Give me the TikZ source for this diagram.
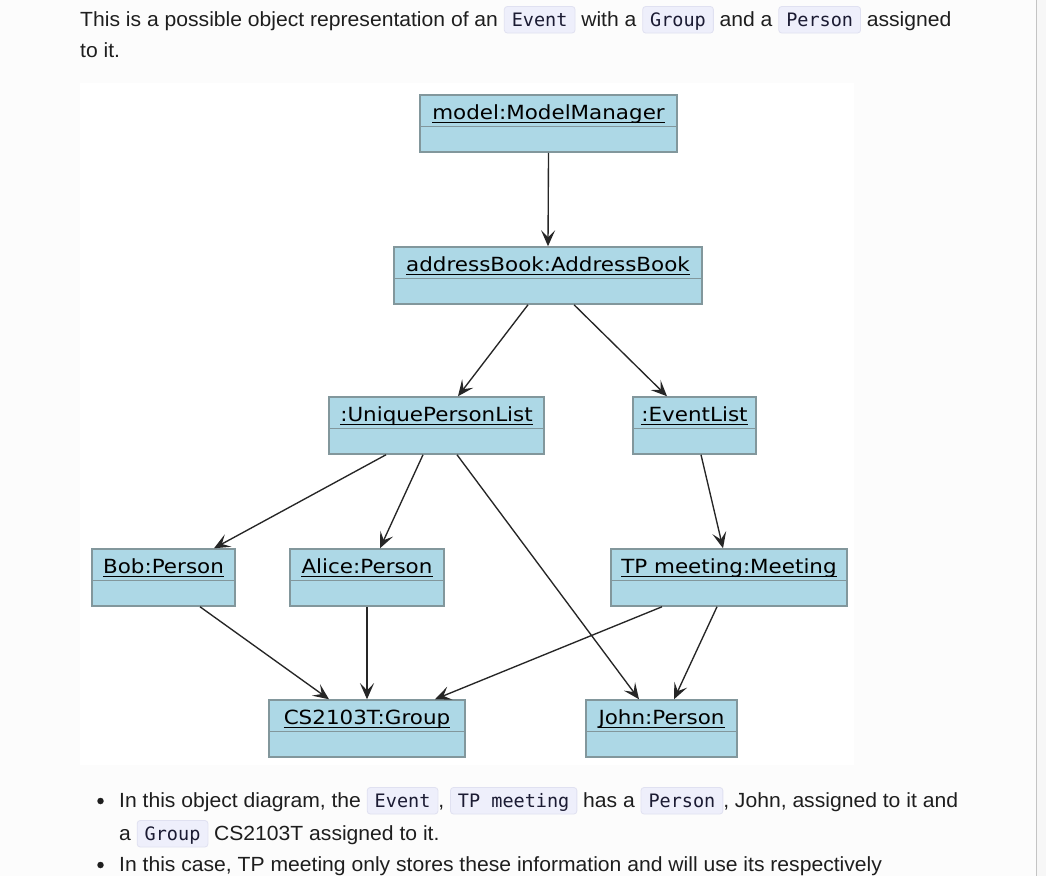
\documentclass[tikz,border=0pt]{standalone}
\usepackage{fontspec}
\setmainfont{Liberation Sans}[FakeStretch=1.03]
\newfontfamily\umlfont{DejaVu Sans}[FakeStretch=1.1]
\newfontfamily\codefont{DejaVu Sans Mono}
\usetikzlibrary{arrows.meta}

\definecolor{pagebg}{HTML}{FCFCFC}
\definecolor{sidebg}{HTML}{F7F7F7}
\definecolor{sideline}{HTML}{C4C4C4}
\definecolor{objfill}{HTML}{ADD8E6}
\definecolor{objline}{HTML}{82979C}
\definecolor{linkcol}{HTML}{262626}
\definecolor{codebg}{HTML}{EEEFFB}
\definecolor{codeedge}{HTML}{E0E1F1}
\definecolor{codetext}{HTML}{1B1B33}
\definecolor{inkcol}{HTML}{1E1E1E}

\tikzset{codebox/.style={fill=codebg, draw=codeedge, line width=0.8pt, rounded corners=3pt,
    inner xsep=7.5pt, inner ysep=0pt, text height=19.5pt, text depth=7pt,
    font=\codefont\fontsize{18.5}{20}\selectfont, text=codetext}}
\newcommand{\code}[1]{\tikz[baseline=(cb.base)]\node[codebox] (cb) {#1};}

\begin{document}
\begin{tikzpicture}[x=1pt,y=-1pt,
    objbox/.style={draw=objline, fill=objfill, line width=1.5pt, minimum height=57pt, inner sep=0pt},
    objtitle/.style={font=\umlfont\fontsize{19.5}{20}\selectfont, text=black, inner sep=0pt, anchor=base},
    link/.style={draw=linkcol, line width=1.35pt, -{Stealth[length=16pt,width=14pt,inset=7pt]}},
    bodytext/.style={font=\fontsize{20.5}{31}\selectfont, text=inkcol, inner sep=0pt, anchor=base west},
    bulletdot/.style={circle, fill=inkcol, inner sep=0pt, minimum size=6.5pt}]
  \useasboundingbox (0,0) rectangle (1046,876);
  \fill[pagebg] (0,0) rectangle (1036,876);
  \fill[sidebg] (1036,0) rectangle (1046,876);
  \draw[sideline, line width=1pt] (1036.5,0) -- (1036.5,876);
  \fill[white] (80,83) rectangle (854,765);

  % text above the diagram
  \node[bodytext] (p1) at (80,26) {This is a possible object representation of an \code{Event} with a \code{Group} and a \code{Person} assigned};
  \node[bodytext] (p2) at (80,57) {to it.};

  % objects
  \foreach \n/\cx/\ty/\w/\lbl in {mm/548.5/95/257/model:ModelManager,
      ab/548/247/308/addressBook:AddressBook,
      upl/436.5/397/215/:UniquePersonList,
      el/694.5/397/123/:EventList,
      bob/163.5/549/143/Bob:Person,
      alice/367/549/154/Alice:Person,
      tp/729/549/236/TP meeting:Meeting,
      grp/367/700/196/CS2103T:Group,
      john/661.5/700/151/John:Person}
  {
    \node[objbox, minimum width=\w] (\n) at (\cx,\ty+28.5) {};
    \draw[objline, line width=1.5pt] ([yshift=-32pt]\n.north west) -- ([yshift=-32pt]\n.north east);
    \node[objtitle] (\n-t) at ([yshift=-25pt]\n.north) {\lbl};
    \draw[line width=1.5pt] ([yshift=-3pt]\n-t.base west) -- ([yshift=-3pt]\n-t.base east);
  }

  % associations
  \foreach \a/\sa/\b/\sb in {mm/0/ab/0, ab/-20/upl/21.5, ab/26/el/-27.5,
      upl/-50.5/bob/50.5, upl/-13.5/alice/13, upl/20.5/john/-22.5,
      el/6.5/tp/-6, bob/36.5/grp/-38, alice/0/grp/0,
      tp/-67/grp/68, tp/-12/john/12.5}
  {
    \draw[link] ([xshift=\sa pt]\a.south) -- ([xshift=\sb pt]\b.north);
  }

  % list below the diagram
  \node[bulletdot] (d1) at (100.5,801) {};
  \node[bodytext] (b1) at (119,807) {In this object diagram, the \code{Event}, \code{TP meeting} has a \code{Person}, John, assigned to it and};
  \node[bodytext] (b2) at (119,840) {a \code{Group} CS2103T assigned to it.};
  \node[bulletdot] (d2) at (100.5,865) {};
  \node[bodytext] (b3) at (119,871) {In this case, TP meeting only stores these information and will use its respectively};
\end{tikzpicture}
\end{document}
